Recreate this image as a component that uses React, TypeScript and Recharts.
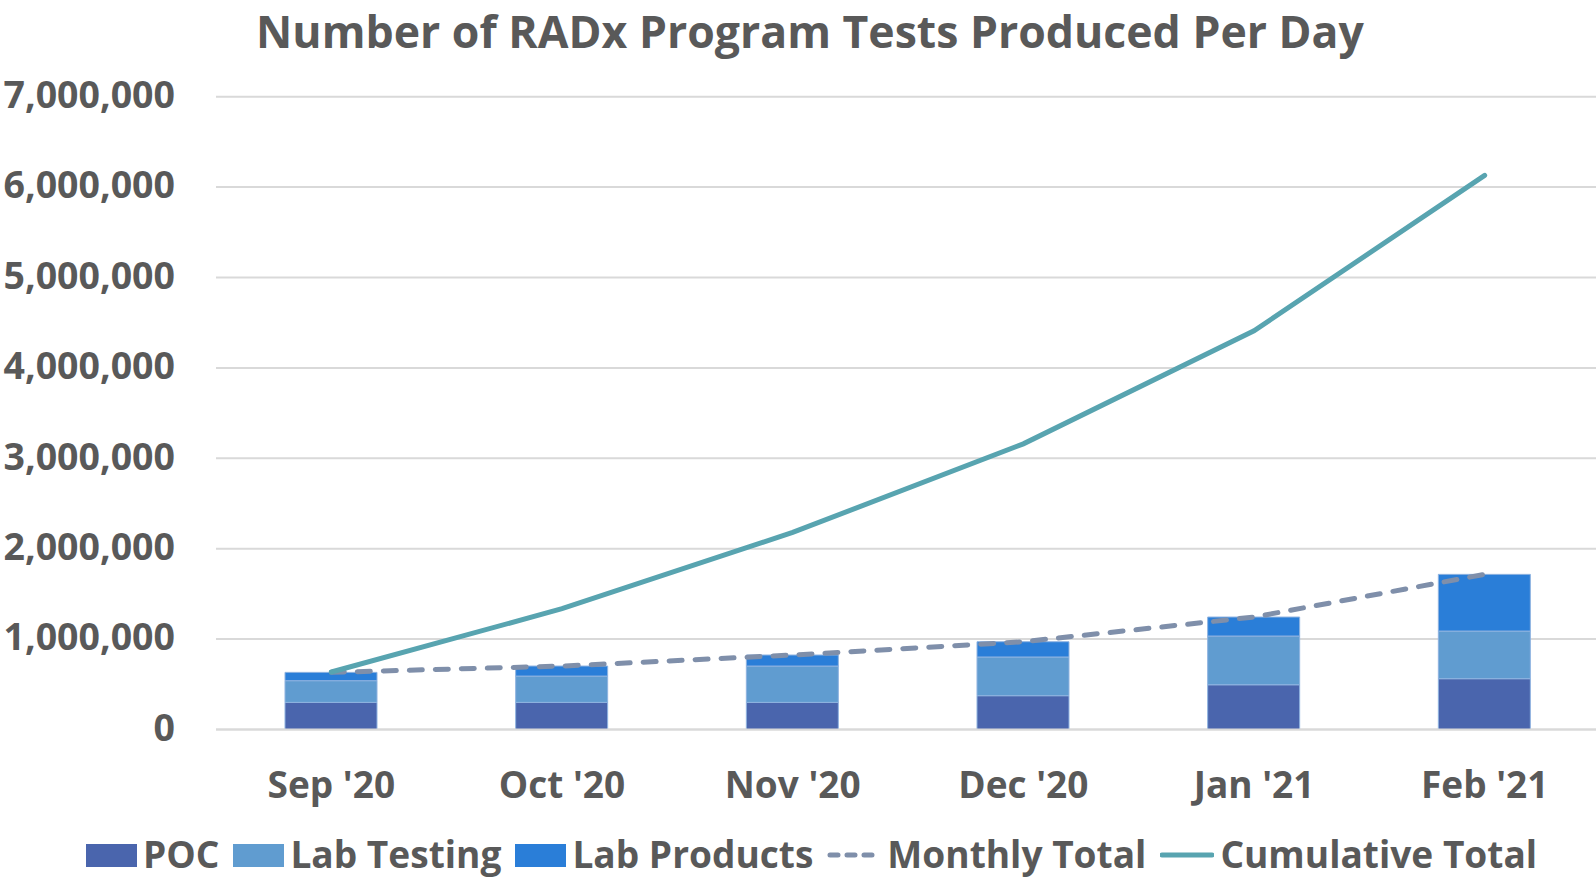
import React from "react";
import {
  ComposedChart,
  Bar,
  Line,
  XAxis,
  YAxis,
  CartesianGrid,
} from "recharts";

const months = ["Sep '20", "Oct '20", "Nov '20", "Dec '20", "Jan '21", "Feb '21"];
const poc = [300000, 300000, 300000, 374000, 495000, 562000];
const labTesting = [240000, 291000, 402000, 428000, 539000, 527000];
const labProducts = [92000, 111000, 122000, 169000, 210000, 627000];
const monthlyTotal = [632000, 702000, 824000, 971000, 1244000, 1716000];
const cumulativeTotal = [636000, 1336000, 2180000, 3160000, 4410000, 6130000];
const yTicks = [0, 1000000, 2000000, 3000000, 4000000, 5000000, 6000000, 7000000];

const data = months.map((m, i) => ({
  month: m,
  poc: poc[i],
  labTesting: labTesting[i],
  labProducts: labProducts[i],
  monthly: monthlyTotal[i],
  cumulative: cumulativeTotal[i],
}));

const FONT = "'Open Sans', sans-serif";
const TEXT = "#595959";
const C_POC = "#4A65AD";
const C_LT = "#609CD0";
const C_LP = "#2A7ED8";
const C_MT = "#7F8FAA";
const C_CT = "#58A4B0";

const fmt = (v: number) => v.toLocaleString("en-US");

const legendItems = [
  { label: "POC", type: "rect", color: C_POC },
  { label: "Lab Testing", type: "rect", color: C_LT },
  { label: "Lab Products", type: "rect", color: C_LP },
  { label: "Monthly Total", type: "dash", color: C_MT },
  { label: "Cumulative Total", type: "line", color: C_CT },
];

export default function App() {
  return (
    <div
      style={{
        position: "absolute",
        left: 0,
        top: 0,
        width: 1596,
        height: 879,
        overflow: "hidden",
        background: "#fff",
        fontFamily: FONT,
      }}
    >
      <div
        style={{
          position: "absolute",
          left: 24,
          top: 0,
          width: 1572,
          textAlign: "center",
          fontSize: 44.6,
          fontWeight: 700,
          color: TEXT,
          lineHeight: "normal",
          whiteSpace: "nowrap",
        }}
      >
        Number of RADx Program Tests Produced Per Day
      </div>
      <ComposedChart
        width={1600}
        height={879}
        data={data}
        margin={{ top: 96.7, right: 0, bottom: 89.5, left: 0 }}
        barCategoryGap={0}
      >
        <CartesianGrid vertical={false} stroke="#D9D9D9" strokeWidth={2} />
        <XAxis
          dataKey="month"
          height={60}
          tickLine={false}
          tickSize={0}
          tickMargin={42}
          axisLine={{ stroke: "#D9D9D9", strokeWidth: 2 }}
          tick={{ fill: TEXT, fontSize: 37, fontWeight: 700, fontFamily: FONT }}
          interval={0}
        />
        <YAxis
          width={216}
          domain={[0, 7000000]}
          ticks={yTicks}
          tickFormatter={fmt}
          axisLine={false}
          tickLine={false}
          tickSize={0}
          tickMargin={41}
          tick={{ fill: TEXT, fontSize: 37.5, fontWeight: 700, fontFamily: FONT, dy: -2 }}
          interval={0}
        />
        <Bar dataKey="poc" stackId="a" fill={C_POC} barSize={92} stroke="#8FB3E0" strokeWidth={1} isAnimationActive={false} />
        <Bar dataKey="labTesting" stackId="a" fill={C_LT} barSize={92} stroke="#8FB3E0" strokeWidth={1} isAnimationActive={false} />
        <Bar dataKey="labProducts" stackId="a" fill={C_LP} barSize={92} stroke="#8FB3E0" strokeWidth={1} isAnimationActive={false} />
        <Line
          dataKey="monthly"
          stroke={C_MT}
          strokeWidth={5}
          strokeDasharray="13 13"
          strokeLinecap="round"
          dot={false}
          activeDot={false}
          isAnimationActive={false}
        />
        <Line
          dataKey="cumulative"
          stroke={C_CT}
          strokeWidth={5}
          strokeLinecap="round"
          dot={false}
          activeDot={false}
          isAnimationActive={false}
        />
      </ComposedChart>
      <div
        style={{
          position: "absolute",
          left: 86,
          top: 828,
          display: "flex",
          alignItems: "center",
          fontSize: 37.1,
          fontWeight: 700,
          color: TEXT,
          lineHeight: "normal",
          whiteSpace: "nowrap",
        }}
      >
        {legendItems.map((it) => (
          <div key={it.label} style={{ display: "flex", alignItems: "center", marginRight: 14 }}>
            {it.type === "rect" && (
              <div style={{ width: 51, height: 23, background: it.color, marginRight: 6, marginTop: 3 }} />
            )}
            {it.type === "dash" && (
              <svg width={54} height={10} style={{ marginRight: 6, marginTop: 3 }}>
                <line x1={3} y1={5} x2={51} y2={5} stroke={it.color} strokeWidth={5} strokeDasharray="8 9" strokeLinecap="round" />
              </svg>
            )}
            {it.type === "line" && (
              <svg width={54} height={10} style={{ marginRight: 6, marginTop: 3 }}>
                <line x1={2} y1={5} x2={52} y2={5} stroke={it.color} strokeWidth={5} strokeLinecap="round" />
              </svg>
            )}
            <span>{it.label}</span>
          </div>
        ))}
      </div>
    </div>
  );
}
